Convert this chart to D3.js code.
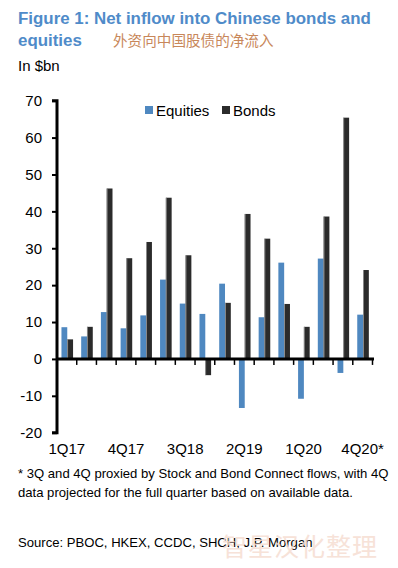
<!DOCTYPE html>
<html>
<head>
<meta charset="utf-8">
<script src="https://cdn.jsdelivr.net/npm/d3@7"></script>
<style>
  body { margin: 0; background: #fff; }
  svg text { font-family: "Liberation Sans", Arial, sans-serif; }
</style>
</head>
<body>
<div id="chart"></div>
<script>
// quarters and flows ($bn)
var quarters = ["1Q17", "2Q17", "3Q17", "4Q17", "1Q18", "2Q18", "3Q18", "4Q18",
  "1Q19", "2Q19", "3Q19", "4Q19", "1Q20", "2Q20", "3Q20", "4Q20*"];
var equities = [8.6, 6.1, 12.7, 8.3, 11.8, 21.5, 15.0, 12.2, 20.4, -13.3, 11.3, 26.1, -10.8, 27.2, -3.8, 12.0];
var bonds = [5.3, 8.7, 46.2, 27.3, 31.7, 43.7, 28.1, -4.4, 15.2, 39.3, 32.6, 14.9, 8.7, 38.6, 65.4, 24.1];
var seriesNames = ["Equities", "Bonds"];
var shownLabels = ["1Q17", "4Q17", "3Q18", "2Q19", "1Q20", "4Q20*"];
var yTicks = [-20, -10, 0, 10, 20, 30, 40, 50, 60, 70];

var svgWidth = 398;
var svgHeight = 568;
var colors = { Equities: "#4f88c0", Bonds: "#2b2b2b" };

var svg = d3.select("#chart")
  .append("svg")
  .attr("width", svgWidth)
  .attr("height", svgHeight);

// title block
svg.append("text")
  .attr("x", 18).attr("y", 24)
  .attr("font-size", "16.9px").attr("font-weight", "bold")
  .attr("fill", "#4f8bc9")
  .text("Figure 1: Net inflow into Chinese bonds and");
svg.append("text")
  .attr("x", 18).attr("y", 46)
  .attr("font-size", "16.9px").attr("font-weight", "bold")
  .attr("fill", "#4f8bc9")
  .text("equities");
svg.append("text")
  .attr("x", 113).attr("y", 46)
  .attr("font-size", "14.6px")
  .attr("fill", "#c8875a")
  .style("font-family", "'Noto Sans CJK SC', sans-serif")
  .text("外资向中国股债的净流入");
svg.append("text")
  .attr("x", 18).attr("y", 71)
  .attr("font-size", "15px")
  .attr("fill", "#000")
  .text("In $bn");

// scales
var x0 = d3.scaleBand()
  .domain(quarters)
  .range([57, 372.5])
  .paddingInner(0)
  .paddingOuter(0);

var x1 = d3.scaleBand()
  .domain(seriesNames)
  .range([0.4, x0.bandwidth() + 0.4])
  .paddingInner(0)
  .paddingOuter(0.7);

var y = d3.scaleLinear()
  .domain([-20, 70])
  .range([432.7, 100.7]);

var data = quarters.map(function(q, i) {
  return { q: q, Equities: equities[i], Bonds: bonds[i] };
});

// bars
var groups = svg.selectAll(".grp")
  .data(data)
  .enter()
  .append("g")
  .attr("class", "grp")
  .attr("transform", d => `translate(${x0(d.q)},0)`);

groups.selectAll("rect")
  .data(d => seriesNames.map(k => ({ key: k, value: d[k] })))
  .enter()
  .append("rect")
  .attr("x", d => x1(d.key))
  .attr("y", d => y(Math.max(0, d.value)))
  .attr("width", x1.bandwidth())
  .attr("height", d => Math.abs(y(d.value) - y(0)))
  .attr("fill", d => colors[d.key]);

// light edge on the dark bars
groups.selectAll(".edge")
  .data(d => [{ value: d.Bonds }])
  .enter()
  .append("rect")
  .attr("class", "edge")
  .attr("x", x1("Bonds"))
  .attr("y", d => y(Math.max(0, d.value)))
  .attr("width", 0.8)
  .attr("height", d => Math.abs(y(d.value) - y(0)))
  .attr("fill", "#9a9a9a");

// y axis
var leftAxis = d3.axisLeft(y)
  .tickValues(yTicks)
  .tickFormat(d => String(d))
  .tickSize(5)
  .tickPadding(10);
var yAxis = svg.append("g")
  .attr("transform", "translate(57,0)")
  .call(leftAxis);
yAxis.select(".domain").attr("stroke-width", 3).attr("d", "M-5,100.7H0V432.7H-5");
yAxis.selectAll(".tick line").attr("stroke-width", 2);
yAxis.selectAll(".tick text")
  .attr("font-size", "15px")
  .attr("font-family", "'Liberation Sans', Arial, sans-serif")
  .attr("fill", "#000");

// x axis at zero with ticks at quarter boundaries
var boundaries = quarters.map(q => x0(q) + x0.bandwidth());
var xAxis = svg.append("g");
xAxis.append("line")
  .attr("x1", 56).attr("x2", 374)
  .attr("y1", y(0)).attr("y2", y(0))
  .attr("stroke", "#000").attr("stroke-width", 3);
xAxis.selectAll(".xtick")
  .data(boundaries)
  .enter()
  .append("line")
  .attr("class", "xtick")
  .attr("x1", d => d).attr("x2", d => d)
  .attr("y1", y(0)).attr("y2", y(0) + 6)
  .attr("stroke", "#000").attr("stroke-width", 1.5);

svg.selectAll(".xlabel")
  .data(shownLabels)
  .enter()
  .append("text")
  .attr("class", "xlabel")
  .attr("x", d => x0(d) + x0.bandwidth() / 2)
  .attr("y", 454)
  .attr("text-anchor", "middle")
  .attr("font-size", "15px")
  .attr("fill", "#000")
  .text(d => d);

// legend
var legend = svg.append("g");
var legendPos = [{ k: "Equities", x: 145 }, { k: "Bonds", x: 222 }];
legendPos.forEach(function(l) {
  legend.append("rect")
    .attr("x", l.x).attr("y", 106)
    .attr("width", 8).attr("height", 8)
    .attr("fill", colors[l.k]);
  legend.append("text")
    .attr("x", l.x + 11).attr("y", 116)
    .attr("font-size", "15px")
    .attr("fill", "#000")
    .text(l.k);
});

// notes
svg.append("text")
  .attr("x", 18).attr("y", 478)
  .attr("font-size", "13.1px")
  .text("* 3Q and 4Q proxied by Stock and Bond Connect flows, with 4Q");
svg.append("text")
  .attr("x", 18).attr("y", 497)
  .attr("font-size", "13.1px")
  .text("data projected for the full quarter based on available data.");
svg.append("text")
  .attr("x", 18).attr("y", 547)
  .attr("font-size", "13.1px")
  .text("Source: PBOC, HKEX, CCDC, SHCH, J.P. Morgan");

// watermark
svg.append("text")
  .attr("x", 222).attr("y", 556)
  .attr("font-size", "25px")
  .attr("fill", "#f6ddd2")
  .attr("opacity", 0.85)
  .style("font-family", "'Noto Sans CJK SC', sans-serif")
  .attr("letter-spacing", "1px")
  .text("智星汉化整理");
</script>
</body>
</html>
